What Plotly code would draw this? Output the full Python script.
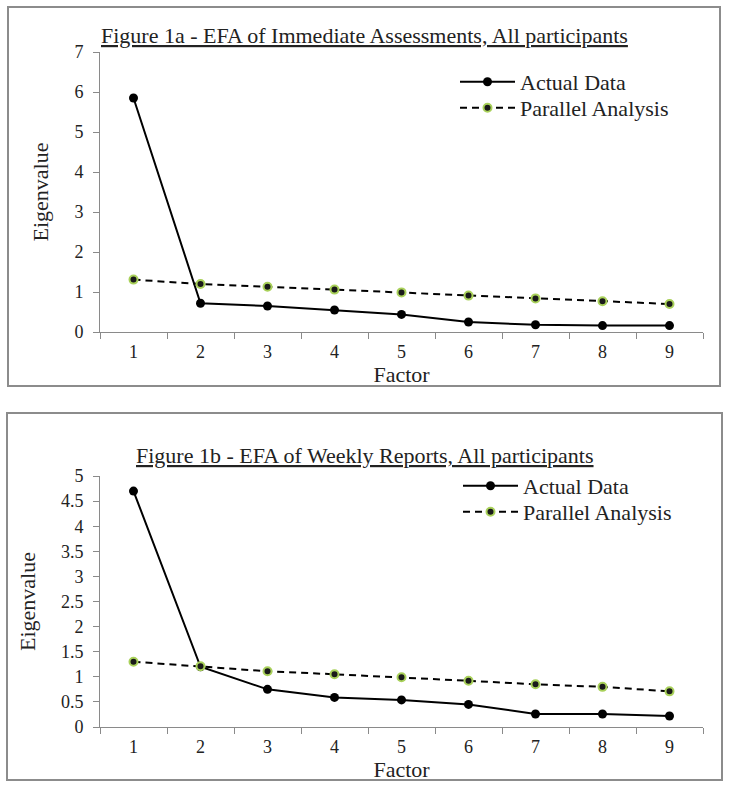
import plotly.graph_objects as go

factors = [1, 2, 3, 4, 5, 6, 7, 8, 9]
factor_labels = ["1", "2", "3", "4", "5", "6", "7", "8", "9"]

actual_1a = [5.85, 0.72, 0.65, 0.55, 0.44, 0.25, 0.18, 0.16, 0.16]
parallel_1a = [1.31, 1.20, 1.13, 1.06, 0.99, 0.91, 0.84, 0.77, 0.70]

actual_1b = [4.70, 1.20, 0.75, 0.59, 0.54, 0.45, 0.26, 0.26, 0.22]
parallel_1b = [1.30, 1.21, 1.11, 1.05, 0.99, 0.92, 0.85, 0.80, 0.71]

yticks_1a = [0, 1, 2, 3, 4, 5, 6, 7]
yticks_1b = [0, 0.5, 1, 1.5, 2, 2.5, 3, 3.5, 4, 4.5, 5]
yticktext_1b = ["0", "0.5", "1", "1.5", "2", "2.5", "3", "3.5", "4", "4.5", "5"]

title_1a = "Figure 1a - EFA of Immediate Assessments, All participants"
title_1b = "Figure 1b - EFA of Weekly Reports, All participants"

W, H = 729, 787
FONT = "Liberation Serif"
AXC = "#8a8a8a"
GREEN = "#a9d15a"
TXT = "#222"

def px(x):
    return x / W

def py(y):
    return 1 - y / H

fig = go.Figure()

def add_series(actual, parallel, xa, ya, leg_a, leg_p):
    fig.add_trace(go.Scatter(
        x=factors, y=actual, mode="lines+markers", name="Actual Data",
        line=dict(color="black", width=2),
        marker=dict(color="black", size=9, symbol="circle"),
        xaxis=xa, yaxis=ya, legend=leg_a))
    fig.add_trace(go.Scatter(
        x=factors, y=parallel, mode="lines+markers", name="Parallel Analysis",
        line=dict(color="black", width=2, dash="7px,5px"),
        marker=dict(color="#1a1a1a", size=8, symbol="circle",
                    line=dict(color=GREEN, width=2)),
        xaxis=xa, yaxis=ya, legend=leg_p))

add_series(actual_1a, parallel_1a, "x", "y", "legend", "legend2")
add_series(actual_1b, parallel_1b, "x2", "y2", "legend3", "legend4")

xdom = [px(100), px(703)]

xaxis_common = dict(
    range=[0.5, 9.5], tickmode="array", tickvals=factors, ticktext=factor_labels,
    ticks="", showgrid=False, zeroline=False, showline=True, linecolor=AXC,
    linewidth=1, tickfont=dict(family=FONT, size=18, color=TXT),
    ticklabelstandoff=3,
    minor=dict(tick0=0.5, dtick=1, ticks="outside", ticklen=6, tickcolor=AXC, showgrid=False),
    title=dict(text="Factor", font=dict(family=FONT, size=22, color=TXT), standoff=0),
    automargin=False, fixedrange=True,
)
yaxis_common = dict(
    showgrid=False, zeroline=False, showline=True, linecolor=AXC, linewidth=1,
    ticks="outside", ticklen=6, tickcolor=AXC, ticklabelstandoff=6,
    tickfont=dict(family=FONT, size=18, color=TXT),
    title=dict(text="Eigenvalue", font=dict(family=FONT, size=22, color=TXT), standoff=19),
    automargin=False, fixedrange=True,
)

legend_common = dict(xanchor="left", yanchor="middle", bgcolor="rgba(0,0,0,0)",
                     font=dict(family=FONT, size=22, color=TXT),
                     tracegroupgap=0, itemwidth=55)

fig.update_layout(
    width=W, height=H,
    margin=dict(l=0, r=0, t=0, b=0),
    paper_bgcolor="white", plot_bgcolor="white",
    xaxis=dict(domain=xdom, anchor="y", **xaxis_common),
    yaxis=dict(domain=[py(332), py(52)], anchor="x", range=[0, 7],
               tickmode="array", tickvals=yticks_1a, **yaxis_common),
    xaxis2=dict(domain=xdom, anchor="y2", **xaxis_common),
    yaxis2=dict(domain=[py(727), py(476)], anchor="x2", range=[0, 5],
                tickmode="array", tickvals=yticks_1b, ticktext=yticktext_1b, **yaxis_common),
    legend=dict(x=px(455), y=py(82), **legend_common),
    legend2=dict(x=px(455), y=py(108), **legend_common),
    legend3=dict(x=px(458), y=py(486), **legend_common),
    legend4=dict(x=px(458), y=py(512), **legend_common),
    showlegend=True,
    shapes=[
        dict(type="rect", xref="paper", yref="paper", x0=px(8), x1=px(720), y0=py(386), y1=py(7),
             line=dict(color="#8c8c8c", width=2)),
        dict(type="rect", xref="paper", yref="paper", x0=px(7), x1=px(722), y0=py(780), y1=py(413),
             line=dict(color="#8c8c8c", width=2)),
    ],
    annotations=[
        dict(text="<u>" + title_1a + "</u>", xref="paper", yref="paper", x=px(364), y=py(36),
             showarrow=False, font=dict(family=FONT, size=22, color=TXT),
             xanchor="center", yanchor="middle"),
        dict(text="<u>" + title_1b + "</u>", xref="paper", yref="paper", x=px(365), y=py(455),
             showarrow=False, font=dict(family=FONT, size=22, color=TXT),
             xanchor="center", yanchor="middle"),
    ],
)

fig.write_html("out.html", config={"displayModeBar": False},
               post_script="document.body.style.margin='0';")
